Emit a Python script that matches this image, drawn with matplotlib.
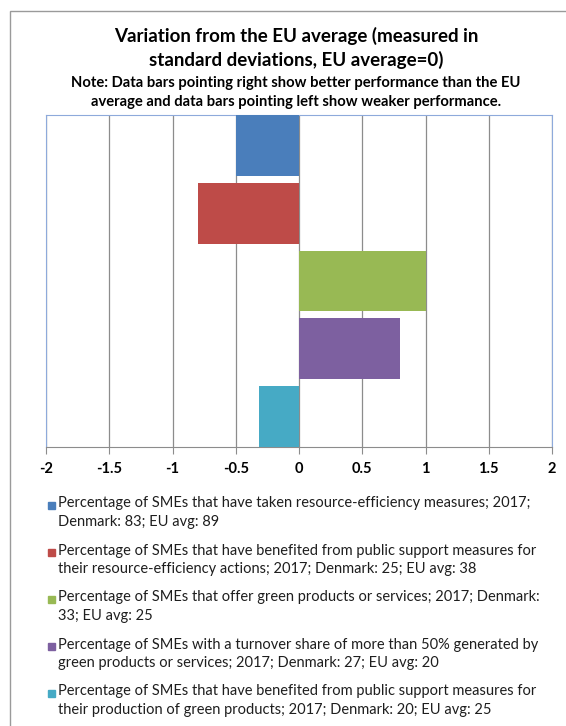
import matplotlib
matplotlib.use("Agg")
import matplotlib.pyplot as plt
from matplotlib.patches import Rectangle

plt.rcParams.update({"font.family": ["Lato", "DejaVu Sans"]})

# data
values = [-0.5, -0.8, 1.0, 0.8, -0.32]
colors = ["#4A7EBB", "#BE4B48", "#98B954", "#7D60A0", "#46AAC5"]
labels = [
    "Percentage of SMEs that have taken resource-efficiency measures; 2017;\nDenmark: 83; EU avg: 89",
    "Percentage of SMEs that have benefited from public support measures for\ntheir resource-efficiency actions; 2017; Denmark: 25; EU avg: 38",
    "Percentage of SMEs that offer green products or services; 2017; Denmark:\n33; EU avg: 25",
    "Percentage of SMEs with a turnover share of more than 50% generated by\ngreen products or services; 2017; Denmark: 27; EU avg: 20",
    "Percentage of SMEs that have benefited from public support measures for\ntheir production of green products; 2017; Denmark: 20; EU avg: 25",
]
xticks = [-2, -1.5, -1, -0.5, 0, 0.5, 1, 1.5, 2]

W, H = 566, 726
fig = plt.figure(figsize=(W / 100, H / 100), dpi=100)
fig.patches.append(Rectangle((10 / W, -0.1), 1, 1 - 11 / H + 0.1, transform=fig.transFigure,
                             fill=False, edgecolor="#9a9a9a", lw=1.0))

ax = fig.add_axes([46 / W, 1 - 447 / H, (552 - 46) / W, (447 - 115) / H])
ypos = list(range(len(values)))
ax.barh(ypos, values, height=0.9, color=colors, zorder=3)
ax.set_ylim(len(values) - 0.55, -0.45)
ax.set_xlim(-2, 2)
ax.set_xticks(xticks)
ax.set_xticklabels([f"{t:g}" for t in xticks], fontweight="bold", fontsize=10.5)
ax.set_yticks([])
ax.grid(axis="x", color="#8c8c8c", lw=0.9, zorder=0)
for s in ["top", "right", "left"]:
    ax.spines[s].set_color("#8eaadb")
ax.spines["bottom"].set_color("#8c8c8c")
ax.tick_params(axis="x", direction="out", length=5, color="#8c8c8c", pad=6)

fig.text(296 / W, 1 - 36 / H, "Variation from the EU average (measured in", ha="center",
         va="center", fontsize=13.5, fontweight="bold")
fig.text(296 / W, 1 - 60 / H, "standard deviations, EU average=0)", ha="center",
         va="center", fontsize=13.5, fontweight="bold")
fig.text(296 / W, 1 - 83 / H, "Note: Data bars pointing right show better performance than the EU",
         ha="center", va="center", fontsize=10.6, fontweight="bold")
fig.text(296 / W, 1 - 102 / H, "average and data bars pointing left show weaker performance.",
         ha="center", va="center", fontsize=10.6, fontweight="bold")

y0 = 505
for i, (lab, c) in enumerate(zip(labels, colors)):
    y = y0 + i * 47
    fig.patches.append(Rectangle((48 / W, 1 - (y + 4) / H), 7 / W, 7 / H,
                                 transform=fig.transFigure, color=c))
    fig.text(58 / W, 1 - (y - 8.5) / H, lab, ha="left", va="top", fontsize=10.5,
             color="#1e1e1e", linespacing=1.37)

fig.savefig("out.png", dpi=100)
